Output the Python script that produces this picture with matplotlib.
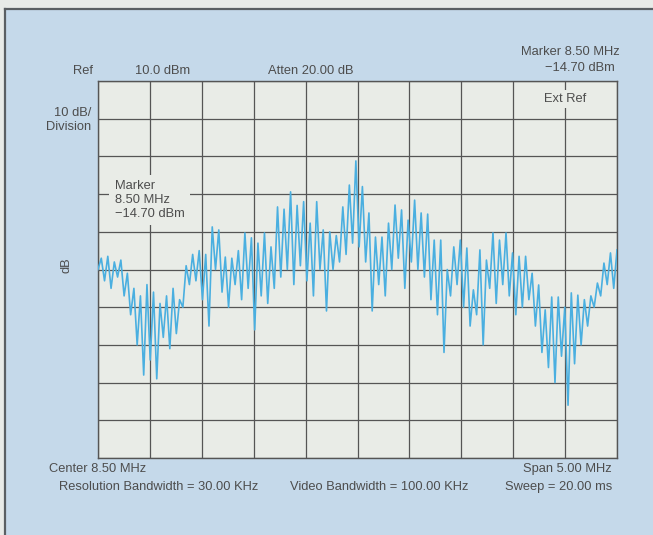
import numpy as np
import matplotlib.pyplot as plt
from matplotlib.patches import Rectangle
from matplotlib.lines import Line2D

# spectrum analyzer sweep, 6.0 - 11.0 MHz, levels in dBm
f_start, f_stop = 6.0, 11.0
ref_level = 10.0
db_per_div = 10.0

start_level = -40.0
# lobe peaks, left to right
peaks = [
    -37, -36.5, -38, -37.5, -41,
    -45, -47, -44, -46, -49, -47, -45, -48,
    -39, -36, -35, -36, -28.7, -29.5, -36.7, -37, -35, -30.3, -31.6,
    -33, -30.3, -34, -23.4, -24, -19.4, -23, -22, -27.7, -22,
    -29.5, -30, -31, -23.4, -17.6, -11.2, -18, -25, -31.4, -31.4,
    -27.7, -22.9, -24.2, -26.9, -21.6, -25, -25.3, -32.2, -32.2, -40,
    -34, -32.2, -34.3, -45.4, -34.8, -37.5, -30.3, -32.2, -30.3, -35.6,
    -36.5, -36.5, -41, -44.1, -50.7, -47.3, -47.3, -50, -46.2, -46.8,
    -48, -47, -43.6, -38.3, -35.6, -34.8,
]
# nulls between lobes
nulls = [
    -43, -45, -42, -47, -52,
    -60, -68, -64, -69, -58, -61, -57, -50,
    -44, -43, -48, -55, -40, -46, -50, -44, -48, -45, -56,
    -47, -49, -45, -42, -40, -44, -39, -43, -47, -40,
    -51, -40, -38, -36, -33, -34, -38, -51, -44, -47,
    -40, -37, -45, -38, -40, -42, -48, -52, -62, -47,
    -44, -50, -55, -52, -60, -45, -49, -44, -47, -52,
    -50, -48, -55, -62, -66, -70, -63, -76, -65, -60,
    -55, -50, -47, -44, -45,
]

trace = [start_level]
for i, p in enumerate(peaks):
    trace.append(p)
    if i < len(nulls):
        trace.append(nulls[i])
trace = np.array(trace)
freq = np.linspace(f_start, f_stop, len(trace))

text_col = '#4d4d4d'
panel_col = '#c5d9ea'
grid_bg = '#e9ece7'
trace_col = '#4aafe0'

plt.rcParams['font.family'] = ['Liberation Sans', 'DejaVu Sans']
fig = plt.figure(figsize=(6.53, 5.35), dpi=100)
fig.patch.set_facecolor('#e8ebe8')

# blue panel with dark frame on top / left
W, H = 653.0, 535.0
fig.patches.append(Rectangle((5 / W, 0), 1, 1 - 9 / H, transform=fig.transFigure,
                             facecolor=panel_col, edgecolor='none', zorder=-2))
fig.lines.append(Line2D([5 / W, 1], [1 - 9 / H, 1 - 9 / H], transform=fig.transFigure,
                        color='#5a5f63', lw=1.6, zorder=-1))
fig.lines.append(Line2D([5 / W, 5 / W], [0, 1 - 9 / H], transform=fig.transFigure,
                        color='#5a5f63', lw=1.6, zorder=-1))

ax = fig.add_axes([98 / W, 1 - 458 / H, 519 / W, 377 / H])
ax.set_facecolor(grid_bg)
ax.set_xlim(f_start, f_stop)
ax.set_ylim(ref_level - 10 * db_per_div, ref_level)
ax.set_xticks(np.arange(f_start, f_stop + 0.01, 0.5))
ax.set_yticks(np.arange(ref_level - 10 * db_per_div, ref_level + 0.1, db_per_div))
ax.grid(True, color='#555555', lw=0.9)
ax.tick_params(length=0, labelbottom=False, labelleft=False)
for s in ax.spines.values():
    s.set_color('#555555')
    s.set_linewidth(1.0)

ax.plot(freq, trace, color=trace_col, lw=1.2, zorder=3)

# labels inside the grid
ax.text(6.16, -21.6, 'Marker\n8.50 MHz\n\u221214.70 dBm', ha='left', va='center',
        fontsize=9.3, color=text_col, linespacing=1.2, zorder=4,
        bbox=dict(facecolor=grid_bg, edgecolor='none', pad=4))
ax.text(10.5, 5.3, 'Ext Ref', ha='center', va='center', fontsize=9.3, color=text_col,
        zorder=4, bbox=dict(facecolor=grid_bg, edgecolor='none', pad=2))

def ftext(x, y, s, **kw):
    fig.text(x / W, 1 - y / H, s, fontsize=9.3, color=text_col, va='center', **kw)

ftext(93, 71, 'Ref', ha='right')
ftext(135, 71, '10.0 dBm', ha='left')
ftext(268, 71, 'Atten 20.00 dB', ha='left')
ftext(620, 52, 'Marker 8.50 MHz', ha='right')
ftext(615, 68, '\u221214.70 dBm', ha='right')
ftext(91, 113, '10 dB/', ha='right')
ftext(91, 127, 'Division', ha='right')
ftext(67, 265, 'dB', ha='center', rotation=90)
ftext(49, 469, 'Center 8.50 MHz', ha='left')
ftext(612, 469, 'Span 5.00 MHz', ha='right')
ftext(59, 487, 'Resolution Bandwidth = 30.00 KHz', ha='left')
ftext(290, 487, 'Video Bandwidth = 100.00 KHz', ha='left')
ftext(612, 487, 'Sweep = 20.00 ms', ha='right')

fig.savefig('out.png', dpi=100, facecolor=fig.get_facecolor())
